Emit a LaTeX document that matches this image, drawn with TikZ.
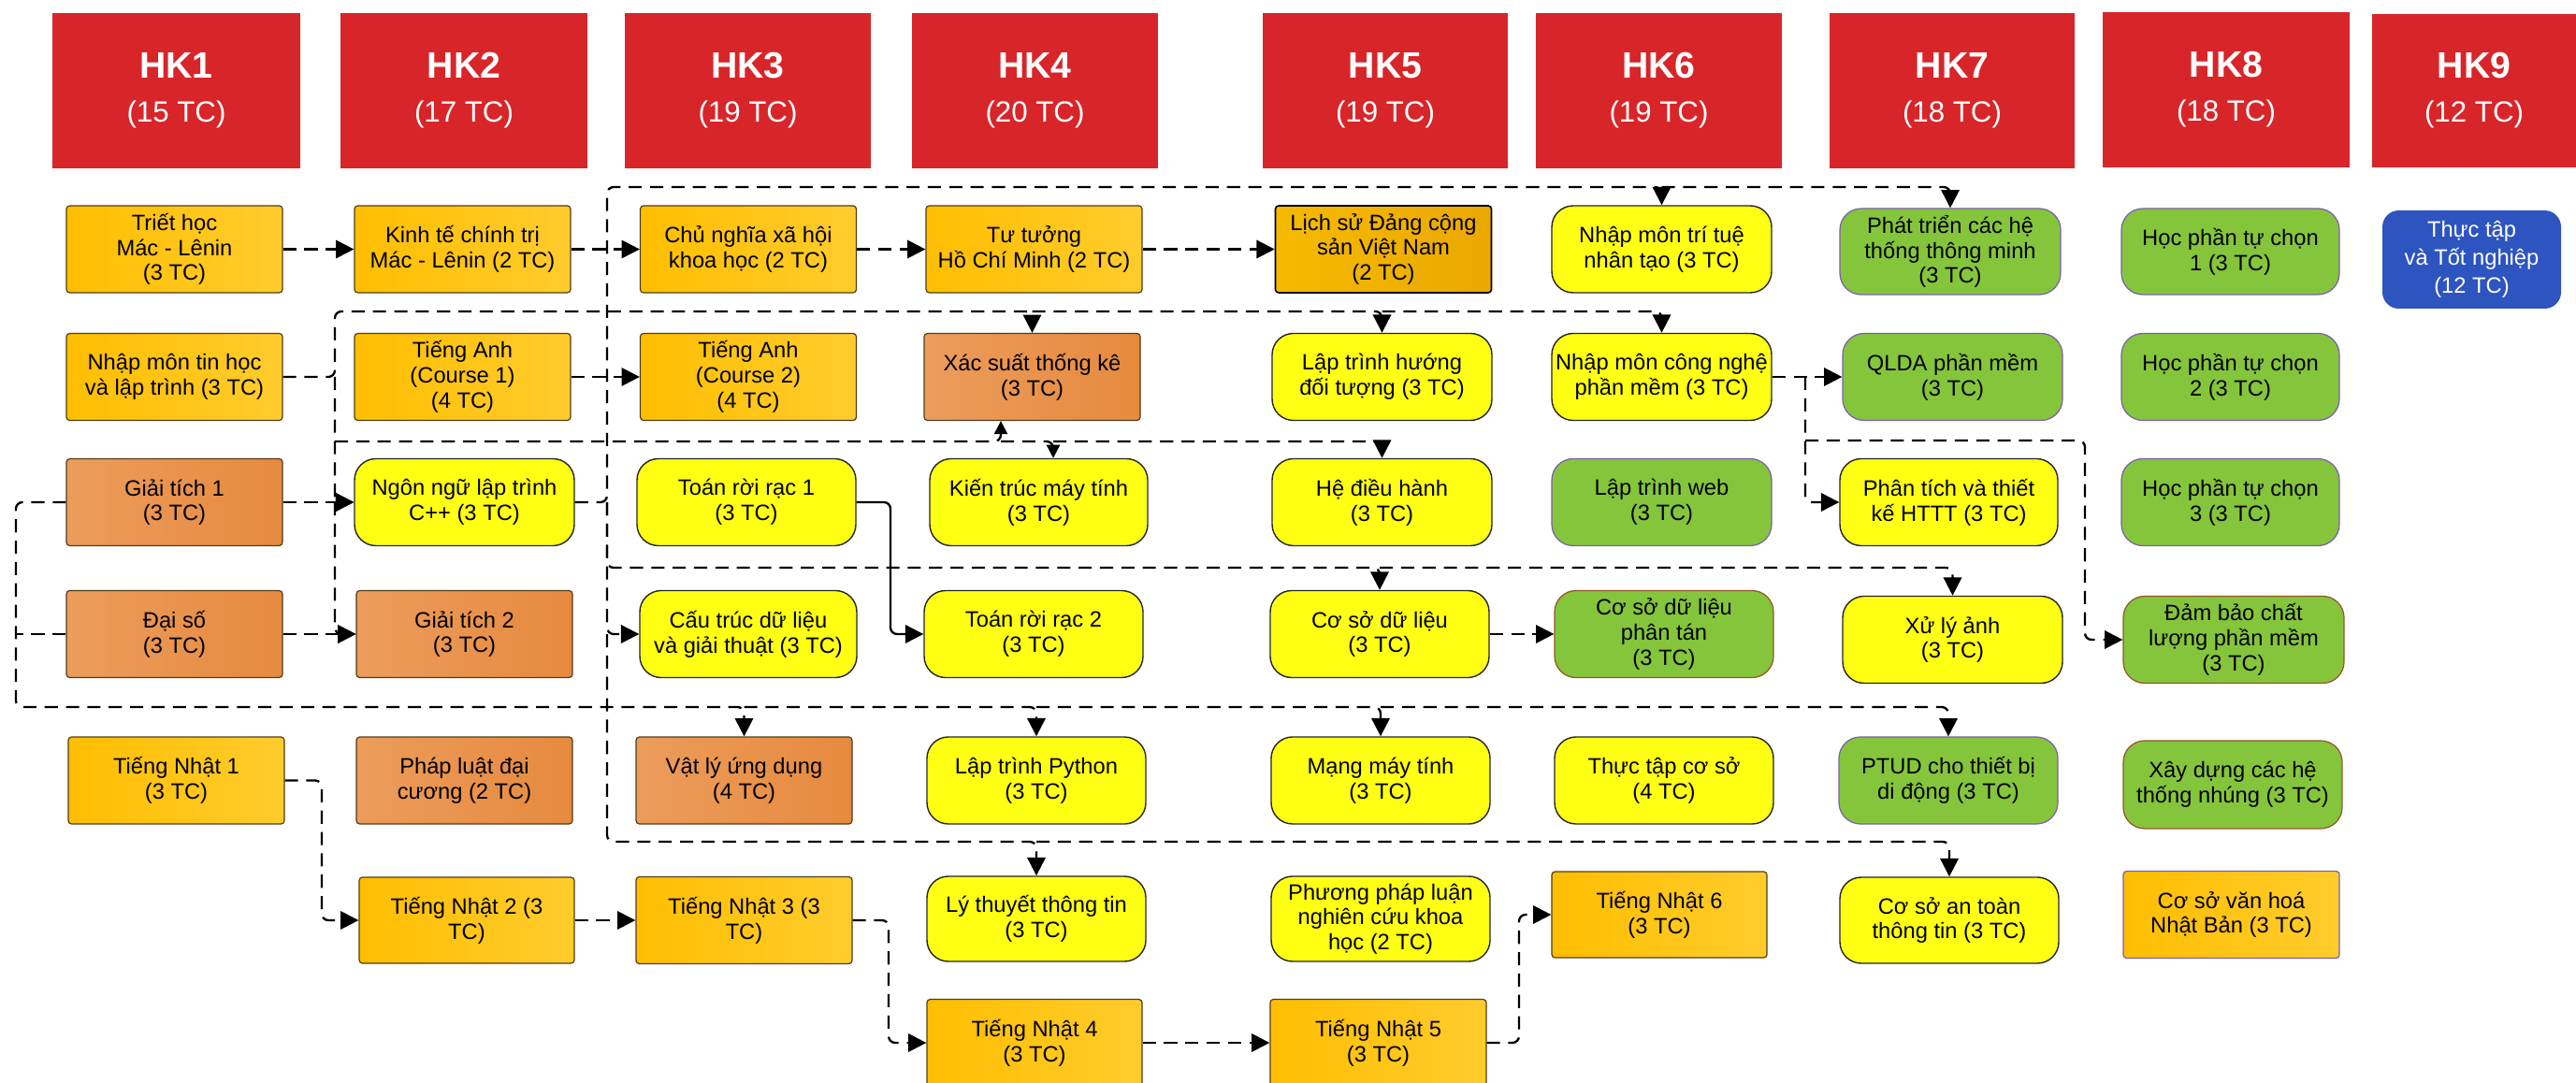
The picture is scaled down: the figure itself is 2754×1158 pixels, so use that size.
\documentclass[tikz,border=0pt]{standalone}
\usepackage{fontspec}
\setmainfont{Liberation Sans}
\usetikzlibrary{arrows.meta}
\definecolor{hdred}{RGB}{216,37,41}
\definecolor{amL}{RGB}{255,190,0}
\definecolor{amR}{RGB}{255,204,45}
\definecolor{amDL}{RGB}{246,186,0}
\definecolor{amDR}{RGB}{234,168,0}
\definecolor{brL}{RGB}{236,156,92}
\definecolor{brR}{RGB}{230,138,62}
\definecolor{yel}{RGB}{255,255,20}
\definecolor{grn}{RGB}{133,197,60}
\definecolor{blu}{RGB}{46,84,192}
\definecolor{purp}{RGB}{125,95,175}
\definecolor{brd}{RGB}{80,62,25}
\definecolor{brdb}{RGB}{150,85,40}
\newcommand\nf{\fontsize{13.5}{15.2}\selectfont}
\newcommand\hk[2]{{\fontsize{22.3}{26.7}\selectfont\bfseries #1}\\(#2 TC)}
\begin{document}
\begin{tikzpicture}[x=0.02cm,y=-0.02cm,
 sz/.style 2 args={minimum width=#1*0.02cm, minimum height=#2*0.02cm},
 base/.style={align=center, inner sep=0pt, font=\nf, sz={231}{93}},
 hdr/.style={base, fill=hdred, text=white, font=\fontsize{17.8}{26.7}\selectfont},
 amb/.style={base, draw=brd, line width=0.7pt, rounded corners=2pt, left color=amL, right color=amR},
 ambd/.style={base, draw=black, line width=0.9pt, rounded corners=2pt, left color=amDL, right color=amDR},
 brn/.style={base, draw=brd, line width=0.7pt, rounded corners=2pt, left color=brL, right color=brR},
 ylw/.style={base, draw=black!85, line width=0.8pt, rounded corners=13pt, fill=yel},
 grnb/.style={base, draw=purp, line width=0.7pt, rounded corners=13pt, fill=grn},
 blub/.style={base, rounded corners=10pt, fill=blu, text=white, font=\fontsize{13.5}{17}\selectfont},
 dl/.style={draw=black, line width=1.3pt, dash pattern=on 8pt off 5pt, rounded corners=4pt},
 sl/.style={draw=black, line width=1.3pt, rounded corners=4pt},
 arr/.style={-{Triangle[length=11pt,width=11pt]}},
 arrs/.style={-{Triangle[length=8pt,width=8pt]}}
]
\useasboundingbox[fill=white] (0,0) rectangle (2754,1158);

% headers
\node[hdr, sz={265}{166}] (h1) at (188.5,97) {\hk{HK1}{15}};
\node[hdr, sz={264}{166}] (h2) at (496,97) {\hk{HK2}{17}};
\node[hdr, sz={263}{166}] (h3) at (799.5,97) {\hk{HK3}{19}};
\node[hdr, sz={263}{166}] (h4) at (1106.5,97) {\hk{HK4}{20}};
\node[hdr, sz={262}{166}] (h5) at (1481,97) {\hk{HK5}{19}};
\node[hdr, sz={263}{166}] (h6) at (1773.5,97) {\hk{HK6}{19}};
\node[hdr, sz={262}{166}] (h7) at (2087,97) {\hk{HK7}{18}};
\node[hdr, sz={264}{166}] (h8) at (2380,96) {\hk{HK8}{18}};
\node[hdr, sz={218}{164}] (h9) at (2645,97) {\hk{HK9}{12}};

% row 1
\node[amb] (n11) at (186.5,266.5) {Triết học\\Mác - Lênin\\(3 TC)};
\node[amb] (n12) at (494.5,266.5) {Kinh tế chính trị\\Mác - Lênin (2 TC)};
\node[amb] (n13) at (800,266.5) {Chủ nghĩa xã hội\\khoa học (2 TC)};
\node[amb] (n14) at (1105.5,266.5) {Tư tưởng\\Hồ Chí Minh (2 TC)};
\node[ambd] (n15) at (1479,266.5) {Lịch sử Đảng cộng\\sản Việt Nam\\(2 TC)};
\node[ylw, sz={235}{93}] (n16) at (1776.5,266.5) {Nhập môn trí tuệ\\nhân tạo (3 TC)};
\node[grnb, sz={236}{92}] (n17) at (2085,269) {Phát triển các hệ\\thống thông minh\\(3 TC)};
\node[grnb, sz={233}{92}] (n18) at (2384.5,269) {Học phần tự chọn\\1 (3 TC)};
\node[blub, sz={191}{105}] (n19) at (2642.5,277.5) {Thực tập\\và Tốt nghiệp\\(12 TC)};

% row 2
\node[amb] (n21) at (186.5,403) {Nhập môn tin học\\và lập trình (3 TC)};
\node[amb] (n22) at (494.5,403) {Tiếng Anh\\(Course 1)\\(4 TC)};
\node[amb] (n23) at (800,403) {Tiếng Anh\\(Course 2)\\(4 TC)};
\node[brn] (n24) at (1103.5,403) {Xác suất thống kê\\(3 TC)};
\node[ylw, sz={235}{93}] (n25) at (1477.5,403) {Lập trình hướng\\đối tượng (3 TC)};
\node[ylw, sz={235}{93}] (n26) at (1776.5,403) {Nhập môn công nghệ\\phần mềm (3 TC)};
\node[grnb, sz={235}{93}] (n27) at (2087.5,403) {QLDA phần mềm\\(3 TC)};
\node[grnb, sz={233}{93}] (n28) at (2384.5,403) {Học phần tự chọn\\2 (3 TC)};

% row 3
\node[brn] (n31) at (186.5,537) {Giải tích 1\\(3 TC)};
\node[ylw, sz={235}{93}] (n32) at (496.5,537) {Ngôn ngữ lập trình\\C++ (3 TC)};
\node[ylw, sz={234}{93}] (n33) at (798,537) {Toán rời rạc 1\\(3 TC)};
\node[ylw, sz={233}{93}] (n34) at (1110.5,537) {Kiến trúc máy tính\\(3 TC)};
\node[ylw, sz={235}{93}] (n35) at (1477.5,537) {Hệ điều hành\\(3 TC)};
\node[grnb, sz={235}{93}] (n36) at (1776.5,537) {Lập trình web\\(3 TC)};
\node[ylw, sz={233}{93}] (n37) at (2083.5,537) {Phân tích và thiết\\kế HTTT (3 TC)};
\node[grnb, sz={233}{93}] (n38) at (2384.5,537) {Học phần tự chọn\\3 (3 TC)};

% row 4
\node[brn] (n41) at (186.5,678) {Đại số\\(3 TC)};
\node[brn] (n42) at (496.5,678) {Giải tích 2\\(3 TC)};
\node[ylw, sz={232}{93}] (n43) at (800,678) {Cấu trúc dữ liệu\\và giải thuật (3 TC)};
\node[ylw, sz={234}{93}] (n44) at (1105,678) {Toán rời rạc 2\\(3 TC)};
\node[ylw, sz={234}{93}] (n45) at (1475,678) {Cơ sở dữ liệu\\(3 TC)};
\node[grnb, draw=brdb, sz={234}{93}] (n46) at (1779,678) {Cơ sở dữ liệu\\phân tán\\(3 TC)};
\node[ylw, sz={235}{93}] (n47) at (2087.5,684) {Xử lý ảnh\\(3 TC)};
\node[grnb, draw=brdb, sz={236}{93}] (n48) at (2388,684) {Đảm bảo chất\\lượng phần mềm\\(3 TC)};

% row 5
\node[amb] (n51) at (188.5,834.5) {Tiếng Nhật 1\\(3 TC)};
\node[brn] (n52) at (496.5,834.5) {Pháp luật đại\\cương (2 TC)};
\node[brn] (n53) at (795.5,834.5) {Vật lý ứng dụng\\(4 TC)};
\node[ylw, sz={234}{93}] (n54) at (1108,834.5) {Lập trình Python\\(3 TC)};
\node[ylw, sz={234}{93}] (n55) at (1476,834.5) {Mạng máy tính\\(3 TC)};
\node[ylw, sz={234}{93}] (n56) at (1779,834.5) {Thực tập cơ sở\\(4 TC)};
\node[grnb, sz={234}{93}] (n57) at (2083,834.5) {PTUD cho thiết bị\\di động (3 TC)};
\node[grnb, draw=brdb, sz={234}{94}] (n58) at (2387,839) {Xây dựng các hệ\\thống nhúng (3 TC)};

% row 6
\node[amb, sz={230}{92}] (n61) at (499,984) {Tiếng Nhật 2 (3\\TC)};
\node[amb] (n62) at (795.5,984) {Tiếng Nhật 3 (3\\TC)};
\node[ylw, sz={234}{91}] (n63) at (1108,982.5) {Lý thuyết thông tin\\(3 TC)};
\node[ylw, sz={234}{91}] (n64) at (1476,982.5) {Phương pháp luận\\nghiên cứu khoa\\học (2 TC)};
\node[amb, sz={230}{92}] (n65) at (1774,978) {Tiếng Nhật 6\\(3 TC)};
\node[ylw, sz={234}{92}] (n66) at (2084,984) {Cơ sở an toàn\\thông tin (3 TC)};
\node[amb, draw=purp] (n67) at (2385.5,978) {Cơ sở văn hoá\\Nhật Bản (3 TC)};

% row 7
\node[amb, sz={230}{93}] (n71) at (1106,1115) {Tiếng Nhật 4\\(3 TC)};
\node[amb, sz={231}{93}] (n72) at (1473.5,1115) {Tiếng Nhật 5\\(3 TC)};

% junction coordinates
\coordinate (pA) at (649,537);
\coordinate (pA2) at (649,678);
\coordinate (q1) at (1776.5,200);
\coordinate (q2) at (1475,607);
\coordinate (q4) at (1108,900);
\coordinate (pB) at (358,403);
\coordinate (q5) at (1103.5,333);
\coordinate (q6) at (1477.5,333);
\coordinate (q7) at (358,537);
\coordinate (q8) at (358,472);
\coordinate (q9) at (1070,472);
\coordinate (q10) at (1126,472);
\coordinate (pC) at (17,678);
\coordinate (q11) at (795.5,756);
\coordinate (q12) at (1108,756);
\coordinate (q13) at (1476,756);
\coordinate (pD) at (1930,403);
\coordinate (q14) at (1930,471);

% straight arrows
\draw[dl,arr] (n11.east) -- (n12.west);
\draw[dl,arr] (n12.east) -- (n13.west);
\draw[dl,arr] (n13.east) -- (n14.west);
\draw[dl,arr] (n14.east) -- (n15.west);
\draw[dl,arr] (n22.east) -- (n23.west);
\draw[dl,arr] (n31.east) -- (n32.west);
\draw[dl,arr] (n41.east) -- (n42.west);
\draw[dl,arr] (n45.east) -- (n46.west);
\draw[dl,arr] (n26.east) -- (n27.west);
\draw[dl,arr] (n61.east) -- (n62.west);
\draw[dl,arr] (n71.east) -- (n72.west);

% bus from C++
\draw[dl,arr] (n32.east) -- (pA) -- (649,200) -- (q1) -- (n16.north);
\draw[dl,arr] (q1) -- (2085,200) -- (n17.north);
\draw[dl,arr] (pA) -- (pA2) -- (n43.west);
\draw[dl,arr] (pA) -- (649,607) -- (q2) -- (n45.north);
\draw[dl,arr] (q2) -- (2087.5,607) -- (n47.north);
\draw[dl,arr] (pA2) -- (649,900) -- (q4) -- (n63.north);
\draw[dl,arr] (q4) -- (2084,900) -- (n66.north);

% bus from Nhap mon tin hoc
\draw[dl,arr] (n21.east) -- (pB) -- (358,333) -- (q5) -- (n24.north);
\draw[dl,arr] (q5) -- (q6) -- (n25.north);
\draw[dl,arr] (q6) -- (1776.5,333) -- (n26.north);
\draw[dl,arr] (pB) -- (q7) -- (n32.west);
\draw[dl,arr] (q7) -- (358,678) -- (n42.west);
\draw[dl,arrs] (q8) -- (q9) -- (q9 |- n24.south);
\draw[dl,arrs] (q9) -- (q10) -- (q10 |- n34.north);
\draw[dl,arr] (q10) -- (1477.5,472) -- (n35.north);

% discrete maths (solid)
\draw[sl,arr] (n33.east) -- (952,537) -- (952,678) -- (n44.west);

% left loop
\draw[dl,arr] (n31.west) -- (17,537) -- (17,756) -- (q11) -- (n53.north);
\draw[dl] (n41.west) -- (pC);
\draw[dl,arr] (q11) -- (q12) -- (n54.north);
\draw[dl,arr] (q12) -- (q13) -- (n55.north);
\draw[dl,arr] (q13) -- (2083,756) -- (n57.north);

% software engineering
\draw[dl,arr] (pD) -- (1930,537) -- (n37.west);
\draw[dl,arr] (q14) -- (2229,471) -- (2229,684) -- (n48.west);

% Japanese chain
\draw[dl,arr] (n51.east) -- (344,834.5) -- (344,984) -- (n61.west);
\draw[dl,arr] (n62.east) -- (950,984) -- (950,1115) -- (n71.west);
\draw[dl,arr] (n72.east) -- (1624,1115) -- (1624,978) -- (n65.west);
\end{tikzpicture}
\end{document}
